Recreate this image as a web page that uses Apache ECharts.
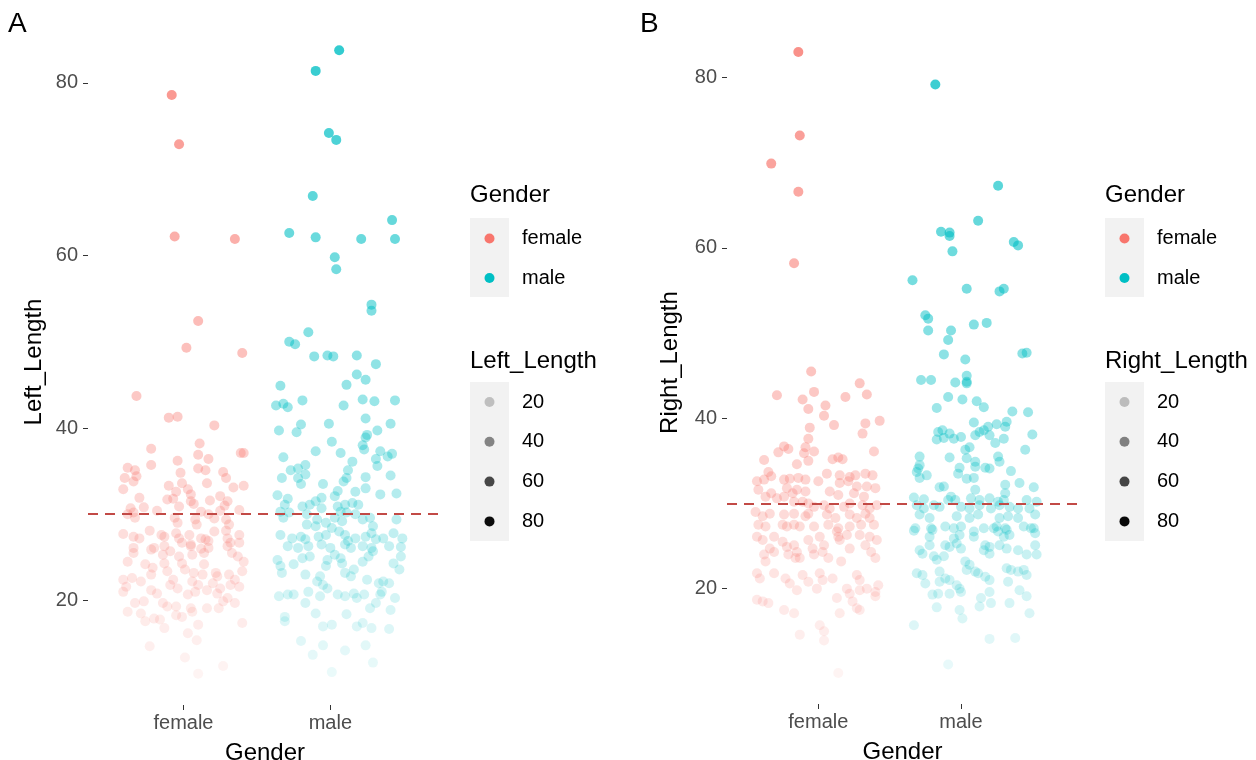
<!DOCTYPE html>
<html>
<head>
<meta charset="utf-8">
<script src="https://cdn.jsdelivr.net/npm/echarts@6/dist/echarts.min.js"></script>
<style>
html, body { margin: 0; padding: 0; background: #fff; }
#main { width: 1256px; height: 760px; }
</style>
</head>
<body>
<div id="main"></div>
<script>
// categories, legend breaks, reference line
var genders = ['female', 'male'];
var alphaBreaks = [20, 40, 60, 80];
var refLine = 30;

// [jittered gender position, Left_Length]
var leftFemale = [
  [0.92,78.6],[0.97,72.9],[0.94,62.2],[1.35,61.9],[1.10,52.4],[1.02,49.3],[1.40,48.7],[0.68,43.7],
  [0.90,41.2],[0.96,41.3],[1.21,40.3],[0.78,37.6],[1.11,38.2],[1.10,36.9],[1.17,36.4],[1.39,37.1],[1.41,37.1],[0.96,36.2],
  [0.78,35.7],[0.62,35.4],[0.67,35.1],[1.10,35.3],[1.15,35.1],[0.98,34.8],[1.27,34.9],[1.29,34.2],[0.60,34.2],[0.66,33.8],
  [0.68,34.4],[0.99,33.6],[1.16,33.6],[0.59,32.9],[0.90,33.3],[1.34,33.1],[1.41,33.3],[1.03,32.9],[1.05,32.3],[0.95,32.6],
  [1.25,32.1],[0.70,31.9],[0.89,31.7],[0.93,31.8],[1.05,31.5],[1.07,31.2],[1.18,31.6],[1.30,31.5],[0.64,30.7],[0.73,30.8],
  [0.97,30.9],[1.12,30.3],[1.17,30.0],[1.25,30.4],[1.28,31.0],[1.38,30.5],[0.82,30.4],[0.62,30.0],[0.66,30.2],[0.67,29.6],
  [0.94,29.6],[0.96,29.0],[1.08,29.4],[1.09,28.8],[1.21,29.5],[1.29,29.4],[1.31,28.8],[0.59,27.7],[0.66,27.4],[0.70,27.2],
  [0.77,28.1],[0.85,27.6],[0.87,27.4],[0.95,27.8],[0.97,27.2],[0.99,26.7],[1.04,27.6],[1.05,26.5],[1.12,27.2],[1.15,27.1],
  [1.21,28.0],[1.29,28.1],[1.30,27.2],[1.32,26.7],[1.38,27.6],[1.38,26.7],[0.66,26.1],[0.80,26.1],[0.87,26.3],[1.05,26.3],
  [1.12,26.0],[1.17,26.9],
  [0.66,25.5],[0.78,25.9],[0.86,25.3],[0.91,25.7],[0.97,25.1],[1.06,25.3],[1.14,25.5],[1.17,26.1],[1.30,26.3],[1.33,25.5],
  [1.37,25.1],[1.41,24.5],[0.62,24.5],[0.74,24.2],[0.79,23.8],[0.78,23.0],[0.87,24.3],[0.89,23.4],[0.99,24.3],[1.01,23.6],
  [1.07,23.2],[1.14,24.2],[1.13,23.0],[1.23,22.8],[1.22,23.2],[1.31,23.0],[1.35,22.4],[1.40,23.4],[0.59,22.4],[0.65,22.6],
  [0.71,22.2],[0.91,21.8],[0.96,21.4],[0.93,22.4],[1.06,22.2],[1.10,21.8],[1.16,21.2],[1.20,22.0],[1.25,21.4],[1.32,21.8],
  [1.38,21.6],[0.59,21.0],[0.61,21.6],[0.78,21.2],[0.82,20.8],[1.03,20.7],[1.08,21.0],[1.23,20.8],[1.27,19.9],[1.35,19.7],
  [1.30,20.3],[0.67,19.7],[0.73,19.9],[0.86,19.7],[0.89,19.3],[0.95,19.3],[1.05,19.1],[1.06,18.7],[1.16,19.1],[1.24,19.1],
  [0.62,18.7],[0.71,18.5],[0.80,17.9],[0.84,17.8],[0.74,17.6],[0.95,18.3],[0.99,18.1],[1.40,17.4],[1.10,17.2],[0.87,16.8],
  [1.03,16.2],[1.09,15.4],[0.77,14.7],[1.01,13.4],[1.27,12.4],[1.10,11.5]
];

var leftMale = [
  [2.06,83.8],[1.90,81.4],[1.99,74.2],[2.04,73.4],[1.88,66.9],[2.42,64.1],[1.72,62.6],[1.90,62.1],[2.21,61.9],[2.44,61.9],
  [2.03,59.8],[2.04,58.4],[2.28,54.3],[2.28,53.6],[1.85,51.1],[1.72,50.0],[1.76,49.7],[1.89,48.3],[1.98,48.4],[2.02,48.3],
  [2.18,48.4],[2.31,47.4],[2.18,46.2],[2.24,45.6],[2.11,45.0],[1.66,44.9],[1.81,43.2],[2.22,43.3],[2.30,43.1],[2.44,43.2],
  [1.63,42.6],[1.68,42.8],[1.71,42.4],[2.09,42.6],
  [1.65,39.7],[1.77,39.5],[1.80,40.4],[1.99,40.5],[2.24,41.1],[2.41,40.5],[2.32,39.7],[2.25,39.2],[2.24,38.9],[2.01,38.4],
  [2.22,38.0],[2.23,37.5],[1.90,37.3],[2.07,37.1],[2.34,37.3],[2.39,36.7],[2.42,37.0],[1.68,36.6],[2.31,36.4],[2.32,35.6],
  [2.15,36.1],[1.83,35.7],[1.78,35.3],[1.73,35.1],[2.12,35.1],[2.11,34.2],[1.78,34.2],[1.80,33.5],[1.83,34.6],[2.24,34.3],
  [2.41,34.5],[1.67,34.2],[1.95,33.5],[2.09,33.8],[2.24,33.0],[2.17,32.6],[2.05,32.7],[2.03,32.1],[2.34,32.3],[2.45,32.4],
  [1.64,32.2],[1.71,31.8],[1.69,31.1],[1.94,31.9],[1.90,31.5],[2.15,31.3],[2.19,31.1],[1.81,30.9],[1.86,31.1],[2.05,30.9],
  [2.10,31.1],[1.66,30.3],[1.72,30.2],[1.94,30.7],[2.07,30.3],[2.11,30.2],[2.17,30.0],[1.68,29.6],[1.84,30.0],[1.91,29.4],
  [1.97,29.0],[2.03,29.6],[2.08,29.2],[2.22,29.4],[2.27,29.6],[2.45,29.4],[1.84,28.8],[1.90,28.6],[2.01,28.4],[2.06,28.0],
  [2.29,28.6],[2.28,27.8],[1.66,27.6],[1.74,27.2],[1.80,27.4],[1.83,27.1],[1.92,27.4],[1.97,27.6],[2.10,27.6],[2.12,26.9],
  [2.17,27.2],[2.24,27.4],[2.31,27.1],[2.36,27.2],[2.43,27.8],[2.49,27.2],[1.71,26.3],[1.78,26.1],[1.85,26.3],[1.94,26.5],
  [2.00,26.1],[2.10,26.5],[2.14,26.1],[2.22,26.3],[2.28,26.1],[2.40,26.3],[2.48,26.2],
  [1.64,24.7],[1.66,24.0],[1.67,23.2],[1.75,24.2],[1.81,24.9],[1.86,25.1],[1.83,23.0],[1.91,22.2],[1.93,22.8],[1.95,21.8],
  [1.97,24.0],[1.98,24.7],[2.03,25.3],[2.07,24.9],[2.08,24.3],[2.10,23.2],[2.14,22.8],[2.16,23.6],[2.22,24.5],[2.26,25.1],
  [2.29,25.7],[2.25,22.4],[2.33,22.0],[2.36,22.2],[2.40,22.0],[2.43,24.3],[2.47,23.6],[2.48,25.1],[1.65,20.5],[1.71,20.7],
  [1.75,20.7],[1.83,19.7],[1.85,21.0],[1.93,20.5],[1.98,21.4],[2.05,20.7],[2.10,20.5],[2.16,20.8],[2.18,20.3],[2.23,20.7],
  [2.31,19.7],[2.34,20.7],[2.35,21.0],[2.27,19.1],[2.41,18.9],[2.44,20.3],[1.90,18.5],[2.11,18.4],[1.69,18.1],[1.69,17.6],
  [1.95,17.0],[2.01,17.2],[2.18,17.0],[2.22,17.4],[2.28,16.8],[2.40,16.7],[1.80,15.3],[1.95,14.8],[2.10,14.2],[2.24,14.8],
  [1.88,13.7],[2.29,12.8],[2.01,11.7]
];

// [jittered gender position, Right_Length]
var rightFemale = [
  [0.86,83.0],[0.87,73.2],[0.67,69.9],[0.86,66.6],[0.83,58.2],[0.95,45.5],[1.29,44.1],[0.71,42.7],[0.89,42.2],[0.97,43.1],
  [1.19,42.5],[1.34,42.8],
  [0.93,41.1],[1.05,41.5],[1.04,40.3],[1.11,39.2],[0.94,38.9],[1.33,39.4],[1.43,39.7],[1.31,38.2],[0.93,37.6],[0.76,36.7],
  [0.79,36.4],[0.72,36.0],[0.91,36.6],[0.90,35.9],[0.97,36.1],[1.39,36.1],[0.62,35.1],[0.85,34.6],[0.93,35.0],[1.10,35.2],
  [1.14,35.4],[1.17,35.2],[0.65,33.7],[0.67,33.2],[1.06,33.5],[1.15,33.3],[1.22,33.1],[1.26,33.3],[1.33,33.5],[1.38,33.3],
  [0.57,32.6],[0.62,32.8],[0.76,32.8],[0.80,32.9],[0.86,33.0],[0.91,32.8],[1.00,32.6],[1.15,32.4],[1.21,32.6],[1.27,32.0],
  [1.34,32.0],[1.40,31.8],[0.58,31.6],[0.67,31.2],[0.78,31.8],[0.82,31.2],[0.85,31.6],[0.91,31.4],[1.08,31.4],[1.14,31.0],
  [1.25,31.2],[1.32,30.8],[0.63,30.8],[0.71,30.6],[0.76,30.8],[0.83,30.2],[0.89,30.2],[0.93,30.0],[0.97,29.6],[1.04,29.8],
  [1.08,29.4],[1.18,29.6],[1.22,30.0],[1.31,29.8],[1.36,29.4],[1.41,29.8],[0.56,29.0],[0.61,28.5],[0.66,28.8],[0.76,28.7],
  [0.83,28.8],[0.91,28.5],[0.93,28.8],[1.06,28.7],[1.12,28.3],[1.22,28.7],[1.27,28.3],[1.33,28.8],[1.36,28.3],[0.58,27.5],
  [0.63,27.3],[0.75,27.5],[0.78,27.3],[0.83,27.5],[0.87,27.3],[0.97,27.3],[1.07,27.5],[1.14,27.1],[1.22,27.3],[1.30,27.5],
  [1.39,27.5],
  [0.57,26.1],[0.61,25.7],[0.69,26.1],[0.66,24.7],[0.69,24.3],[0.75,25.5],[0.78,24.9],[0.79,24.0],[0.83,25.1],[0.85,24.3],
  [0.87,23.6],[0.84,23.6],[0.62,24.0],[0.63,23.2],[0.93,25.7],[0.96,24.7],[0.97,24.0],[1.01,26.1],[1.04,25.1],[1.03,24.3],
  [1.07,23.6],[1.13,26.7],[1.15,25.7],[1.14,26.1],[1.20,26.3],[1.22,24.7],[1.16,23.2],[1.29,26.3],[1.33,25.1],[1.36,26.1],
  [1.37,24.3],[1.41,25.7],[1.40,23.6],[0.57,21.8],[0.59,21.2],[0.69,21.8],[0.77,21.2],[0.80,20.6],[0.85,19.8],[0.89,21.6],
  [0.93,20.8],[0.99,20.0],[1.01,21.8],[1.03,21.0],[1.10,21.2],[1.20,20.0],[1.22,19.4],[1.13,18.9],[1.27,21.6],[1.29,21.0],
  [1.29,19.8],[1.34,20.0],[1.40,19.6],[1.42,20.4],[1.40,19.1],[0.57,18.7],[0.61,18.5],[0.65,18.3],[0.76,17.5],[0.83,17.1],
  [1.15,17.1],[1.24,18.5],[1.27,17.7],[1.29,17.5],[1.01,15.7],[1.04,15.0],[0.87,14.6],[1.04,13.9],[1.14,10.1]
];

var rightMale = [
  [1.82,79.2],[2.26,67.3],[2.12,63.2],[1.86,61.9],[1.92,61.8],[1.92,61.4],[2.37,60.7],[2.40,60.3],[1.94,59.6],[1.66,56.2],
  [2.04,55.2],[2.27,54.9],[2.30,55.2],[1.75,52.1],[1.77,51.7],[2.09,51.0],[2.18,51.2],[1.77,50.3],[1.93,50.3],[1.91,49.2],
  [1.88,47.5],[2.03,46.9],[2.43,47.6],[2.46,47.7],[1.72,44.5],[1.79,44.5],[1.96,44.2],[2.04,45.0],[2.04,44.3],[2.04,44.1],
  [1.91,42.5],[2.01,42.2],[2.11,42.0],
  [2.16,41.3],[1.83,41.2],[2.36,40.8],[2.47,40.7],[2.09,39.5],[2.32,39.6],[2.31,39.0],[2.19,39.0],[2.25,39.3],[1.84,38.4],
  [1.87,38.6],[1.83,37.5],[1.88,37.7],[1.92,38.2],[1.95,37.6],[2.00,37.8],[2.10,38.0],[2.13,38.4],[2.16,38.6],[2.20,38.0],
  [2.24,37.1],[2.30,37.6],[2.50,38.1],[2.06,36.6],[2.03,36.3],[2.45,36.3],[1.71,35.5],[1.92,35.4],[2.04,35.3],[2.26,35.5],
  [2.27,34.9],[2.10,34.9],[2.10,34.3],[1.70,34.1],[1.71,34.5],[1.69,33.7],[1.99,34.2],[1.98,33.5],[2.17,34.2],[2.20,34.1],
  [2.35,33.8],[1.76,33.3],[1.71,33.0],[2.04,32.9],[2.09,33.0],[2.31,32.2],[2.41,32.4],[1.85,31.9],[1.88,32.0],[2.10,31.6],
  [2.51,31.9],[2.31,31.2],[1.67,30.7],[1.74,30.5],[1.93,30.8],[1.96,30.4],[1.91,30.4],[2.07,30.6],[2.13,30.4],[2.20,30.6],
  [2.26,30.2],[2.30,30.4],[2.46,30.4],[2.53,30.2],[1.69,29.8],[1.74,29.4],[1.81,29.8],[1.85,29.6],[2.00,29.6],[2.06,29.4],
  [2.13,29.8],[2.21,29.4],[2.27,29.8],[2.34,29.6],[2.40,29.4],[2.48,29.4],[1.71,28.7],[1.78,28.3],[1.97,28.5],[2.06,28.3],
  [2.12,28.7],[2.27,28.3],[2.33,28.5],[2.40,28.3],[2.52,28.7],[1.68,27.1],[1.79,27.1],[1.89,27.3],[1.95,27.1],[2.00,27.3],
  [2.16,27.1],[2.25,27.3],[2.31,27.1],[2.44,27.3],[2.49,27.1],
  [1.67,26.8],[1.80,26.9],[1.78,26.1],[1.78,25.1],[1.99,26.3],[1.95,25.9],[1.89,25.1],[1.92,24.9],[1.97,25.3],[2.00,24.7],
  [2.09,26.7],[2.09,26.1],[2.17,25.1],[2.16,24.5],[2.20,24.9],[2.20,24.1],[2.23,27.1],[2.26,26.7],[2.30,26.1],[2.32,26.9],
  [2.34,26.3],[2.27,25.1],[2.32,24.7],[2.40,24.5],[2.46,24.0],[2.51,27.1],[2.52,26.5],[2.52,25.1],[2.53,24.0],[1.71,24.5],
  [1.73,24.1],[1.81,23.8],[1.83,23.4],[1.88,23.8],[2.03,23.2],[2.06,22.8],[2.10,22.0],[2.12,21.8],[2.04,22.2],[2.17,21.4],
  [2.20,21.0],[2.32,22.4],[2.35,22.2],[2.40,22.0],[2.44,22.2],[2.46,21.6],[1.69,21.8],[1.75,20.6],[1.73,21.6],[1.85,22.0],
  [1.89,21.2],[1.85,20.8],[1.92,21.0],[1.97,20.4],[1.99,20.0],[2.00,19.6],[2.33,20.8],[2.20,19.6],[2.41,19.8],[2.46,19.1],
  [1.80,19.3],[1.84,19.4],[1.92,19.4],[2.14,18.9],[2.13,17.9],[2.21,18.3],[2.34,18.3],[1.83,17.8],[1.99,17.5],[2.01,16.5],
  [2.48,17.1],[1.67,15.7],[2.20,14.1],[2.38,14.2],[1.91,11.1]
];

var FEMALE = [248, 118, 109];
var MALE = [0, 191, 196];
var FONT = '"Liberation Sans", Arial, sans-serif';

// ggplot-like alpha scale (0.1 .. 1) over the panel's data range
function alphaScale(all) {
  var vals = all.map(function (d) { return d[1]; });
  var lo = Math.min.apply(null, vals), hi = Math.max.apply(null, vals);
  var f = function (v) { return Math.max(0.1, Math.min(1, 0.1 + 0.9 * (v - lo) / (hi - lo))); };
  f.lo = lo; f.hi = hi;
  return f;
}
var alphaL = alphaScale(leftFemale.concat(leftMale));
var alphaR = alphaScale(rightFemale.concat(rightMale));

function rgba(c, a) { return 'rgba(' + c[0] + ',' + c[1] + ',' + c[2] + ',' + a.toFixed(3) + ')'; }

function xAxisFor(i, lo, hi) {
  return {
    type: 'value', gridIndex: i, min: lo, max: hi,
    name: 'Gender', nameLocation: 'middle', nameGap: 36,
    nameTextStyle: { fontSize: 24, color: '#000', fontFamily: FONT },
    axisLine: { show: false },
    splitLine: { show: false },
    axisTick: { show: true, length: 5, customValues: [1, 2], lineStyle: { color: '#333', width: 1 } },
    axisLabel: {
      customValues: [1, 2], margin: 8, fontSize: 20, color: '#4D4D4D', fontFamily: FONT,
      formatter: function (v) { return genders[Math.round(v) - 1]; }
    }
  };
}
function yAxisFor(i, name, alpha, gap) {
  var pad = (alpha.hi - alpha.lo) * 0.05;
  return {
    type: 'value', gridIndex: i, min: alpha.lo - pad, max: alpha.hi + pad,
    name: name, nameLocation: 'middle', nameGap: gap, nameRotate: 90,
    nameTextStyle: { fontSize: 24, color: '#000', fontFamily: FONT },
    axisLine: { show: false },
    splitLine: { show: false },
    axisTick: { show: true, length: 5, customValues: alphaBreaks, lineStyle: { color: '#333', width: 1 } },
    axisLabel: { customValues: alphaBreaks, margin: 10, fontSize: 20, color: '#4D4D4D', fontFamily: FONT }
  };
}
function pointSeries(i, data, col, alpha, withLine) {
  var s = {
    type: 'scatter', xAxisIndex: i, yAxisIndex: i, data: data,
    symbol: 'circle', symbolSize: 10, silent: true,
    itemStyle: { color: function (p) { return rgba(col, alpha(p.value[1])); } }
  };
  if (withLine) {
    s.markLine = {
      silent: true, symbol: 'none', label: { show: false },
      lineStyle: { type: [10, 7], color: '#C24A46', width: 2 },
      data: [{ yAxis: refLine }]
    };
  }
  return s;
}

function legendFor(x0, title2, alpha) {
  var els = [];
  var txt = function (t, x, y, size) {
    els.push({ type: 'text', style: { text: t, x: x, y: y, font: size + 'px ' + FONT, fill: '#000', verticalAlign: 'middle' } });
  };
  txt('Gender', x0, 195, 24);
  els.push({ type: 'rect', shape: { x: x0, y: 218, width: 39, height: 79 }, style: { fill: '#F2F2F2' } });
  els.push({ type: 'circle', shape: { cx: x0 + 19.5, cy: 238.5, r: 5 }, style: { fill: rgba(FEMALE, 1) } });
  els.push({ type: 'circle', shape: { cx: x0 + 19.5, cy: 278, r: 5 }, style: { fill: rgba(MALE, 1) } });
  txt(genders[0], x0 + 52, 238.5, 20);
  txt(genders[1], x0 + 52, 278, 20);
  txt(title2, x0, 361, 24);
  els.push({ type: 'rect', shape: { x: x0, y: 382, width: 39, height: 159 }, style: { fill: '#F2F2F2' } });
  alphaBreaks.forEach(function (b, k) {
    var cy = 402 + k * 39.8;
    els.push({ type: 'circle', shape: { cx: x0 + 19.5, cy: cy, r: 5 }, style: { fill: rgba([0, 0, 0], alpha(b)) } });
    txt(String(b), x0 + 52, cy, 20);
  });
  return els;
}

var chart = echarts.init(document.getElementById('main'));
var option = {
  backgroundColor: '#fff',
  animation: false,
  grid: [
    { left: 88, top: 19, width: 354, height: 686, outerBoundsMode: 'none', containLabel: false },
    { left: 727, top: 21, width: 351, height: 683, outerBoundsMode: 'none', containLabel: false }
  ],
  xAxis: [xAxisFor(0, 0.35, 2.76), xAxisFor(1, 0.36, 2.82)],
  yAxis: [yAxisFor(0, 'Left_Length', alphaL, 42), yAxisFor(1, 'Right_Length', alphaR, 45)],
  series: [
    pointSeries(0, leftFemale, FEMALE, alphaL, false),
    pointSeries(0, leftMale, MALE, alphaL, true),
    pointSeries(1, rightFemale, FEMALE, alphaR, false),
    pointSeries(1, rightMale, MALE, alphaR, true)
  ],
  graphic: [].concat(
    [{ type: 'text', style: { text: 'A', x: 8, y: 24, font: '28px ' + FONT, fill: '#000', verticalAlign: 'middle' } },
     { type: 'text', style: { text: 'B', x: 640, y: 24, font: '28px ' + FONT, fill: '#000', verticalAlign: 'middle' } }],
    legendFor(470, 'Left_Length', alphaL),
    legendFor(1105, 'Right_Length', alphaR)
  )
};
chart.setOption(option);
</script>
</body>
</html>
